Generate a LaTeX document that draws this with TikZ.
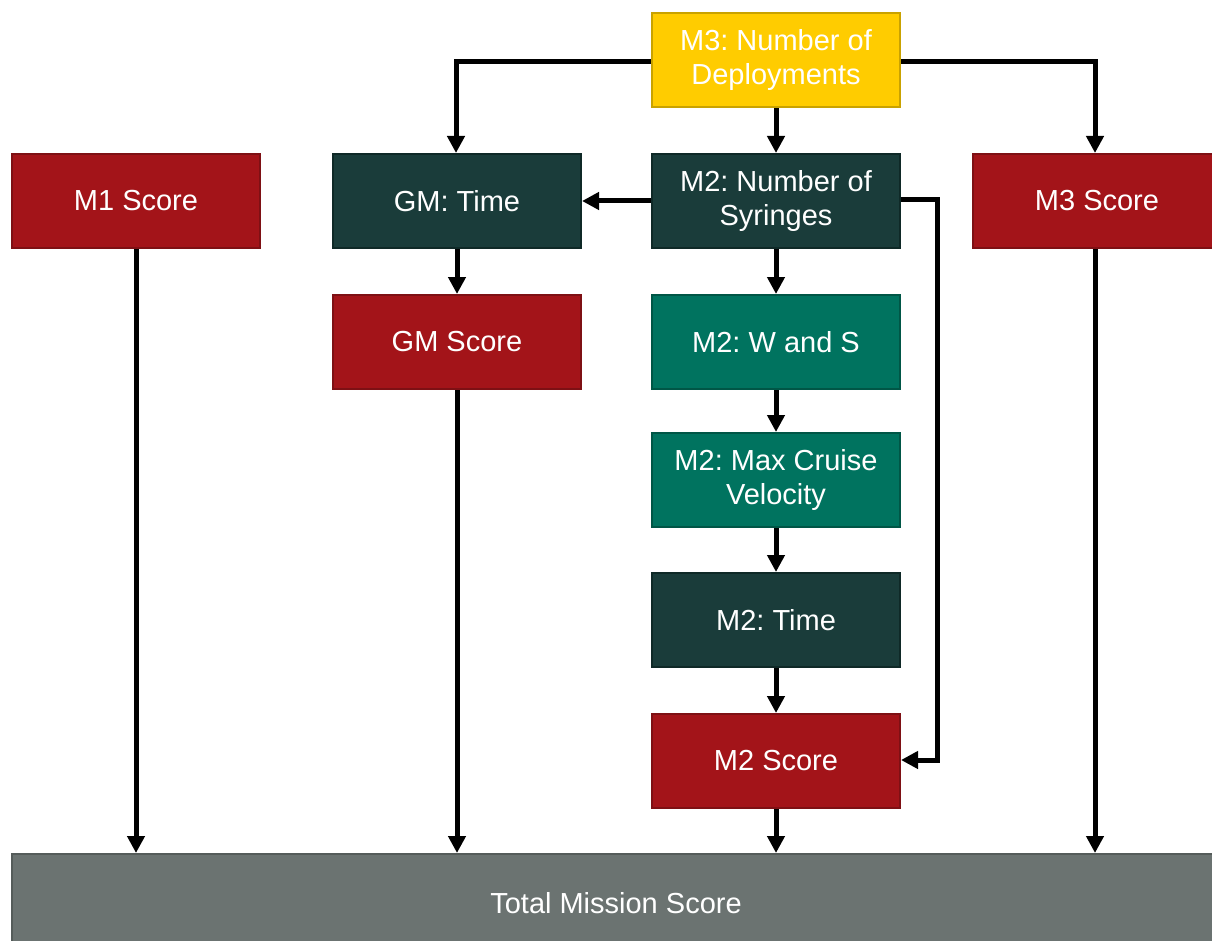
\documentclass[tikz,border=0pt]{standalone}
\usepackage{fontspec}
\setmainfont{Liberation Sans}
\frenchspacing
\usetikzlibrary{arrows.meta}
\definecolor{boxred}{HTML}{A31419}
\definecolor{boxredline}{HTML}{7E1014}
\definecolor{boxdark}{HTML}{1A3C3A}
\definecolor{boxdarkline}{HTML}{0F2927}
\definecolor{boxteal}{HTML}{00735F}
\definecolor{boxtealline}{HTML}{005646}
\definecolor{boxyellow}{HTML}{FFCC00}
\definecolor{boxyellowline}{HTML}{C9A200}
\definecolor{boxgray}{HTML}{6B7371}
\definecolor{boxgrayline}{HTML}{555C5A}
\begin{document}
\begin{tikzpicture}[x=1pt,y=-1pt,
  box/.style={draw, line width=2pt, minimum width=248pt, minimum height=94pt,
    text=white, align=center, inner sep=0pt,
    font=\frenchspacing\fontsize{29}{34}\selectfont},
  redbox/.style={box, fill=boxred, draw=boxredline},
  darkbox/.style={box, fill=boxdark, draw=boxdarkline},
  tealbox/.style={box, fill=boxteal, draw=boxtealline},
  yellowbox/.style={box, fill=boxyellow, draw=boxyellowline},
  flow/.style={line width=5pt, -{Triangle[width=17pt,length=17pt]}}]
\useasboundingbox (0,0) rectangle (1212,941);

% score nodes and inputs
\node[yellowbox] (dep) at (776,60.5) {M3: Number of\\Deployments};
\node[redbox] (m1) at (136,201) {M1 Score};
\node[darkbox] (gmt) at (457,201) {GM: Time};
\node[darkbox] (syr) at (776,201) {M2: Number of\\Syringes};
\node[redbox] (m3) at (1097,201) {M3 Score};
\node[redbox] (gms) at (457,342) {GM Score};
\node[tealbox] (ws) at (776,342) {M2: W and S};
\node[tealbox] (vel) at (776,480) {M2: Max Cruise\\Velocity};
\node[darkbox] (m2t) at (776,620) {M2: Time};
\node[redbox] (m2s) at (776,761) {M2 Score};
\node[box, fill=boxgray, draw=boxgrayline, minimum width=1208pt, minimum height=98pt]
  (tot) at (616,903) {Total Mission Score};

% connectors
\coordinate (dl) at (456,62);
\coordinate (dr) at (1095,62);
\coordinate (sr) at (937,200);
\coordinate (sb) at (937,760);
\draw[flow] (dep.west |- dl) -- (dl) -- (dl |- gmt.north);
\draw[flow] (dep.east |- dr) -- (dr) -- (dr |- m3.north);
\draw[flow] (dep) -- (syr);
\draw[flow] (syr) -- (gmt);
\draw[flow] (syr.east |- sr) -- (sr) -- (sb) -- (m2s.east |- sb);
\draw[flow] (syr) -- (ws);
\draw[flow] (ws) -- (vel);
\draw[flow] (vel) -- (m2t);
\draw[flow] (m2t) -- (m2s);
\draw[flow] (gmt) -- (gms);
\draw[flow] (m1.south) -- (m1.south |- tot.north);
\draw[flow] (gms.south) -- (gms.south |- tot.north);
\draw[flow] (m2s.south) -- (m2s.south |- tot.north);
\draw[flow] (dr |- m3.south) -- (dr |- tot.north);
\end{tikzpicture}
\end{document}
